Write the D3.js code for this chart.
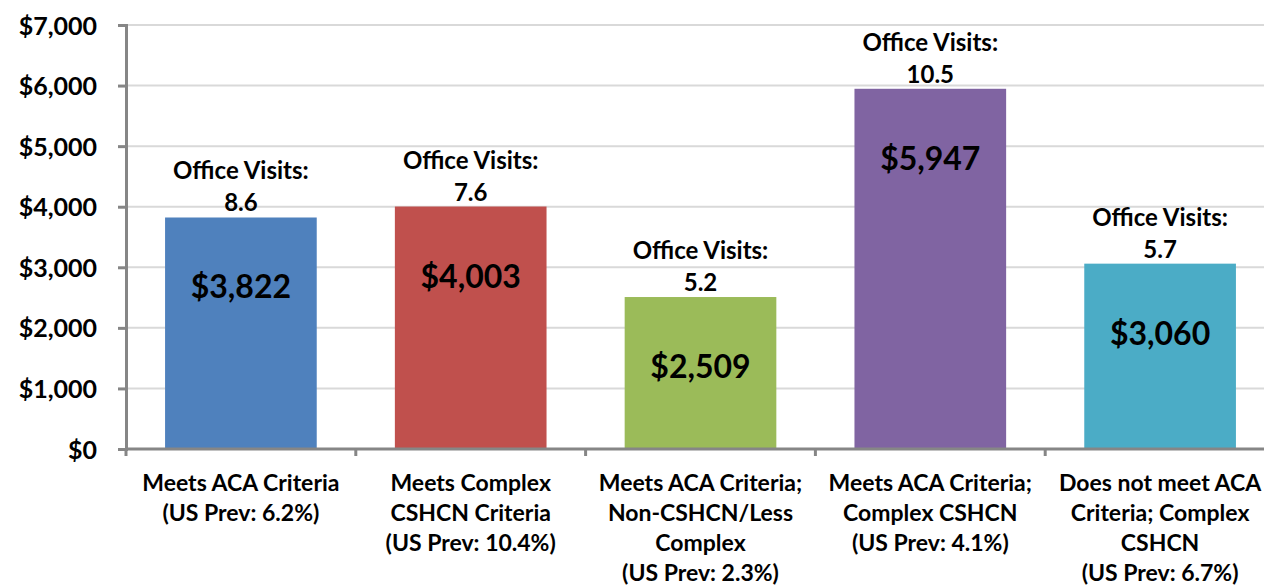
<!DOCTYPE html>
<html>
<head>
<meta charset="utf-8">
<script src="https://cdn.jsdelivr.net/npm/d3@7"></script>
<style>
  html, body { margin: 0; padding: 0; background: #fff; }
  svg text { font-family: Lato, "Open Sans", sans-serif; font-weight: bold; fill: #000; }
</style>
</head>
<body>
<div id="chart"></div>
<script>
const categories = [
  ["Meets ACA Criteria", "(US Prev: 6.2%)"],
  ["Meets Complex", "CSHCN Criteria", "(US Prev: 10.4%)"],
  ["Meets ACA Criteria;", "Non-CSHCN/Less", "Complex", "(US Prev: 2.3%)"],
  ["Meets ACA Criteria;", "Complex CSHCN", "(US Prev: 4.1%)"],
  ["Does not meet ACA", "Criteria; Complex", "CSHCN", "(US Prev: 6.7%)"]
];
const costs = [3822, 4003, 2509, 5947, 3060];
const officeVisits = ["8.6", "7.6", "5.2", "10.5", "5.7"];
const barColors = ["#4F81BD", "#C0504D", "#9BBB59", "#8064A2", "#4BACC6"];
const yTicks = [0, 1000, 2000, 3000, 4000, 5000, 6000, 7000];

const W = 1264, H = 587;
const margin = { top: 25, right: -11, bottom: 138, left: 126 };
const plotW = W - margin.left - margin.right;
const plotH = H - margin.top - margin.bottom;

const svg = d3.select("#chart").append("svg")
  .attr("width", W)
  .attr("height", H);

const g = svg.append("g")
  .attr("transform", `translate(${margin.left},${margin.top})`);

const x = d3.scaleBand()
  .domain(d3.range(costs.length))
  .range([0, plotW])
  .paddingInner(0.34)
  .paddingOuter(0.17);

const y = d3.scaleLinear()
  .domain([0, 7000])
  .range([plotH, 0]);

// gridlines
g.append("g")
  .selectAll("line")
  .data(yTicks.slice(1))
  .join("line")
  .attr("x1", 0)
  .attr("x2", plotW)
  .attr("y1", d => y(d))
  .attr("y2", d => y(d))
  .attr("stroke", "#d9d9d9")
  .attr("stroke-width", 2);

// bars
g.append("g")
  .selectAll("rect")
  .data(costs)
  .join("rect")
  .attr("x", (d, i) => x(i))
  .attr("y", d => y(d))
  .attr("width", x.bandwidth())
  .attr("height", d => y(0) - y(d))
  .attr("fill", (d, i) => barColors[i]);

// y axis
const yAxis = g.append("g")
  .call(d3.axisLeft(y).tickValues(yTicks).tickSize(8).tickPadding(21)
    .tickFormat(d => "$" + d3.format(",")(d)));
yAxis.select(".domain").attr("stroke", "#868686").attr("stroke-width", 3);
yAxis.selectAll(".tick line").attr("stroke", "#868686").attr("stroke-width", 3);
yAxis.selectAll(".tick text").style("font-size", "25px").attr("dy", "0.36em");

// x axis with ticks at band boundaries
const boundaries = d3.range(costs.length + 1).map(i => i * plotW / costs.length);
const xAxisG = g.append("g").attr("transform", `translate(0,${plotH})`);
xAxisG.append("line")
  .attr("x1", 0).attr("x2", plotW)
  .attr("stroke", "#868686").attr("stroke-width", 3);
xAxisG.selectAll(".xt")
  .data(boundaries)
  .join("line")
  .attr("class", "xt")
  .attr("x1", d => d).attr("x2", d => d)
  .attr("y1", 0).attr("y2", 7)
  .attr("stroke", "#868686").attr("stroke-width", 3);

// category labels
xAxisG.selectAll(".cat")
  .data(categories)
  .join("text")
  .attr("class", "cat")
  .attr("text-anchor", "middle")
  .style("font-size", "23px")
  .each(function(lines, i) {
    const t = d3.select(this);
    lines.forEach((ln, k) => {
      t.append("tspan")
        .attr("x", x(i) + x.bandwidth() / 2)
        .attr("y", 42 + k * 30)
        .text(ln);
    });
  });

// office visits labels above bars
g.append("g")
  .selectAll("text")
  .data(costs)
  .join("text")
  .attr("text-anchor", "middle")
  .style("font-size", "24px")
  .each(function(d, i) {
    const t = d3.select(this);
    const cx = x(i) + x.bandwidth() / 2;
    t.append("tspan").attr("x", cx).attr("y", y(d) - 38).text("Office Visits:");
    t.append("tspan").attr("x", cx).attr("y", y(d) - 6).text(officeVisits[i]);
  });

// value labels inside bars
g.append("g")
  .selectAll("text")
  .data(costs)
  .join("text")
  .attr("text-anchor", "middle")
  .attr("x", (d, i) => x(i) + x.bandwidth() / 2)
  .attr("y", d => y(d) + 81)
  .style("font-size", "32px")
  .text(d => "$" + d3.format(",")(d));
</script>
</body>
</html>
